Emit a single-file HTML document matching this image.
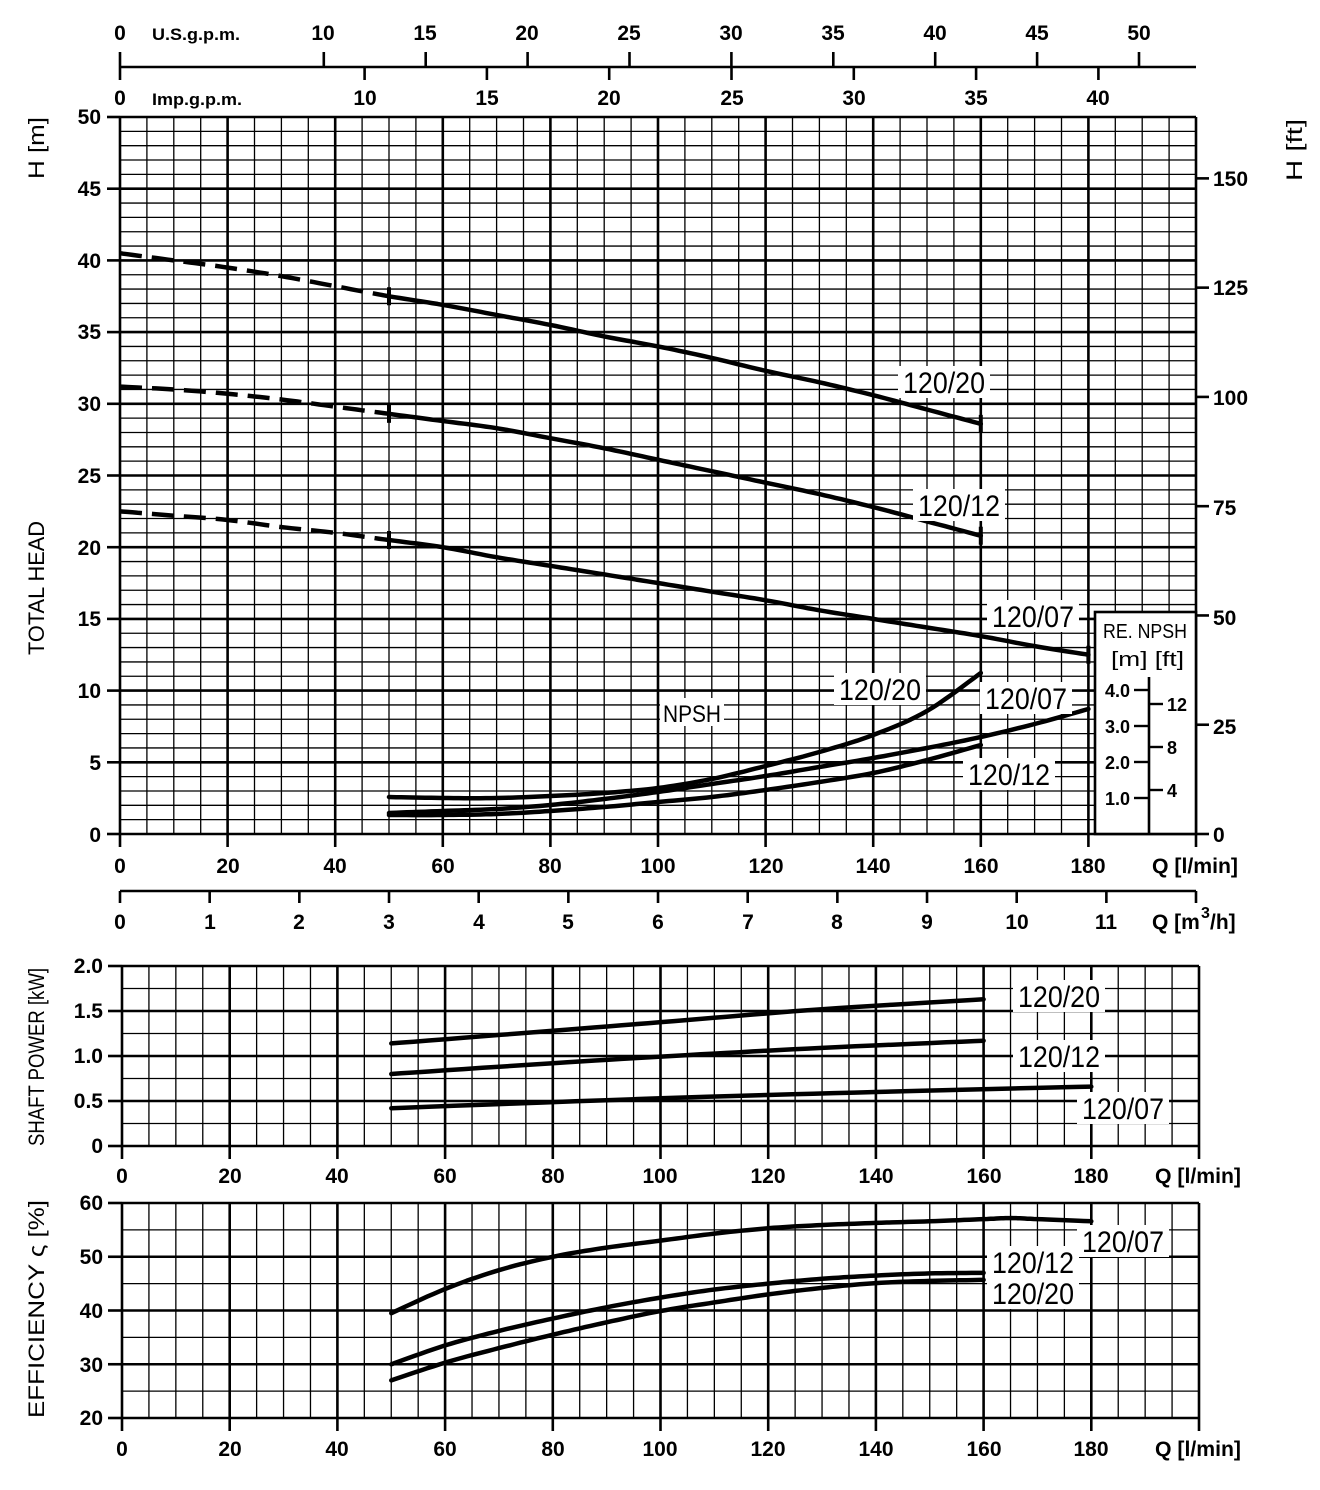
<!DOCTYPE html>
<html><head><meta charset="utf-8"><style>
html,body{margin:0;padding:0;background:#fff;}
svg{display:block;}
text{font-family:"Liberation Sans",sans-serif;fill:#000;}
.t{font-size:21px;font-weight:bold;}
.tr{font-size:21px;font-weight:bold;text-anchor:end;}
.tm{font-size:21px;font-weight:bold;text-anchor:middle;}
.lb{font-size:30px;}
.ax{font-size:22px;}
</style></head><body>
<svg id="s" width="1320" height="1490" viewBox="0 0 1320 1490" xmlns="http://www.w3.org/2000/svg">
<g id="grid"></g>
<g id="curves"></g>
<g id="labels">
<text class="tm" x="120" y="40">0</text>
<text class="t" x="152" y="40" style="font-size:17px" textLength="88" lengthAdjust="spacingAndGlyphs">U.S.g.p.m.</text>
<text class="tm" x="323" y="40">10</text>
<text class="tm" x="425" y="40">15</text>
<text class="tm" x="527" y="40">20</text>
<text class="tm" x="629" y="40">25</text>
<text class="tm" x="731" y="40">30</text>
<text class="tm" x="833" y="40">35</text>
<text class="tm" x="935" y="40">40</text>
<text class="tm" x="1037" y="40">45</text>
<text class="tm" x="1139" y="40">50</text>
<text class="tm" x="120" y="105">0</text>
<text class="t" x="152" y="105" style="font-size:17px" textLength="90" lengthAdjust="spacingAndGlyphs">Imp.g.p.m.</text>
<text class="tm" x="365" y="105">10</text>
<text class="tm" x="487" y="105">15</text>
<text class="tm" x="609" y="105">20</text>
<text class="tm" x="732" y="105">25</text>
<text class="tm" x="854" y="105">30</text>
<text class="tm" x="976" y="105">35</text>
<text class="tm" x="1098" y="105">40</text>
<text class="tr" x="101" y="124">50</text>
<text class="tr" x="101" y="196">45</text>
<text class="tr" x="101" y="268">40</text>
<text class="tr" x="101" y="339">35</text>
<text class="tr" x="101" y="411">30</text>
<text class="tr" x="101" y="483">25</text>
<text class="tr" x="101" y="555">20</text>
<text class="tr" x="101" y="626">15</text>
<text class="tr" x="101" y="698">10</text>
<text class="tr" x="101" y="770">5</text>
<text class="tr" x="101" y="842">0</text>
<text class="t" x="1213" y="186">150</text>
<text class="t" x="1213" y="295">125</text>
<text class="t" x="1213" y="405">100</text>
<text class="t" x="1213" y="515">75</text>
<text class="t" x="1213" y="625">50</text>
<text class="t" x="1213" y="734">25</text>
<text class="t" x="1213" y="842">0</text>
<text class="tm" x="120" y="873">0</text>
<text class="tm" x="228" y="873">20</text>
<text class="tm" x="335" y="873">40</text>
<text class="tm" x="443" y="873">60</text>
<text class="tm" x="550" y="873">80</text>
<text class="tm" x="658" y="873">100</text>
<text class="tm" x="766" y="873">120</text>
<text class="tm" x="873" y="873">140</text>
<text class="tm" x="981" y="873">160</text>
<text class="tm" x="1088" y="873">180</text>
<text class="t" x="1152" y="873" textLength="86" lengthAdjust="spacingAndGlyphs">Q [l/min]</text>
<text class="tm" x="120" y="929">0</text>
<text class="tm" x="210" y="929">1</text>
<text class="tm" x="299" y="929">2</text>
<text class="tm" x="389" y="929">3</text>
<text class="tm" x="479" y="929">4</text>
<text class="tm" x="568" y="929">5</text>
<text class="tm" x="658" y="929">6</text>
<text class="tm" x="748" y="929">7</text>
<text class="tm" x="837" y="929">8</text>
<text class="tm" x="927" y="929">9</text>
<text class="tm" x="1017" y="929">10</text>
<text class="tm" x="1106" y="929">11</text>
<text class="t" x="1152" y="929">Q [m</text>
<text class="t" x="1201" y="918" style="font-size:16px">3</text>
<text class="t" x="1210" y="929">/h]</text>
<text class="ax" transform="translate(44,148) rotate(-90)" text-anchor="middle" textLength="62" lengthAdjust="spacingAndGlyphs">H [m]</text>
<text class="ax" transform="translate(44,588) rotate(-90)" text-anchor="middle" textLength="134" lengthAdjust="spacingAndGlyphs">TOTAL HEAD</text>
<text class="ax" transform="translate(1302,150) rotate(-90)" text-anchor="middle" textLength="62" lengthAdjust="spacingAndGlyphs">H [ft]</text>
<text class="ax" transform="translate(44,1057) rotate(-90)" text-anchor="middle" textLength="178" lengthAdjust="spacingAndGlyphs">SHAFT POWER  [kW]</text>
<text class="ax" transform="translate(44,1309) rotate(-90)" text-anchor="middle" textLength="218" lengthAdjust="spacingAndGlyphs">EFFICIENCY   ς  [%]</text>
<text class="tr" x="103" y="973">2.0</text>
<text class="tr" x="103" y="1018">1.5</text>
<text class="tr" x="103" y="1063">1.0</text>
<text class="tr" x="103" y="1108">0.5</text>
<text class="tr" x="103" y="1153">0</text>
<text class="tm" x="122" y="1183">0</text>
<text class="tm" x="230" y="1183">20</text>
<text class="tm" x="337" y="1183">40</text>
<text class="tm" x="445" y="1183">60</text>
<text class="tm" x="553" y="1183">80</text>
<text class="tm" x="660" y="1183">100</text>
<text class="tm" x="768" y="1183">120</text>
<text class="tm" x="876" y="1183">140</text>
<text class="tm" x="984" y="1183">160</text>
<text class="tm" x="1091" y="1183">180</text>
<text class="t" x="1155" y="1183" textLength="86" lengthAdjust="spacingAndGlyphs">Q [l/min]</text>
<text class="tr" x="103" y="1210">60</text>
<text class="tr" x="103" y="1264">50</text>
<text class="tr" x="103" y="1318">40</text>
<text class="tr" x="103" y="1372">30</text>
<text class="tr" x="103" y="1425">20</text>
<text class="tm" x="122" y="1456">0</text>
<text class="tm" x="230" y="1456">20</text>
<text class="tm" x="337" y="1456">40</text>
<text class="tm" x="445" y="1456">60</text>
<text class="tm" x="553" y="1456">80</text>
<text class="tm" x="660" y="1456">100</text>
<text class="tm" x="768" y="1456">120</text>
<text class="tm" x="876" y="1456">140</text>
<text class="tm" x="984" y="1456">160</text>
<text class="tm" x="1091" y="1456">180</text>
<text class="t" x="1155" y="1456" textLength="86" lengthAdjust="spacingAndGlyphs">Q [l/min]</text>
<text x="1103" y="638" style="font-size:20px" textLength="84" lengthAdjust="spacingAndGlyphs">RE. NPSH</text>
<text x="1111" y="666" style="font-size:20px" textLength="73" lengthAdjust="spacingAndGlyphs">[m] [ft]</text>
<text class="tr" x="1130" y="697" style="font-size:18px">4.0</text>
<text class="tr" x="1130" y="733" style="font-size:18px">3.0</text>
<text class="tr" x="1130" y="769" style="font-size:18px">2.0</text>
<text class="tr" x="1130" y="805" style="font-size:18px">1.0</text>
<text class="t" x="1167" y="711" style="font-size:18px">12</text>
<text class="t" x="1167" y="754" style="font-size:18px">8</text>
<text class="t" x="1167" y="797" style="font-size:18px">4</text>
</g>
<g id="curvelabels">
<rect x="898" y="366" width="92" height="32" fill="#fff"/><text class="lb" x="903" y="393" textLength="82" lengthAdjust="spacingAndGlyphs">120/20</text>
<rect x="913" y="489" width="92" height="32" fill="#fff"/><text class="lb" x="918" y="516" textLength="82" lengthAdjust="spacingAndGlyphs">120/12</text>
<rect x="987" y="600" width="92" height="32" fill="#fff"/><text class="lb" x="992" y="627" textLength="82" lengthAdjust="spacingAndGlyphs">120/07</text>
<rect x="834" y="673" width="92" height="32" fill="#fff"/><text class="lb" x="839" y="700" textLength="82" lengthAdjust="spacingAndGlyphs">120/20</text>
<rect x="980" y="682" width="92" height="32" fill="#fff"/><text class="lb" x="985" y="709" textLength="82" lengthAdjust="spacingAndGlyphs">120/07</text>
<rect x="963" y="758" width="92" height="32" fill="#fff"/><text class="lb" x="968" y="785" textLength="82" lengthAdjust="spacingAndGlyphs">120/12</text>
<rect x="660" y="698" width="64" height="28" fill="#fff"/><text class="lb" x="663" y="722" style="font-size:24px" textLength="58" lengthAdjust="spacingAndGlyphs">NPSH</text>
<rect x="1013" y="980" width="92" height="32" fill="#fff"/><text class="lb" x="1018" y="1007" textLength="82" lengthAdjust="spacingAndGlyphs">120/20</text>
<rect x="1013" y="1040" width="92" height="32" fill="#fff"/><text class="lb" x="1018" y="1067" textLength="82" lengthAdjust="spacingAndGlyphs">120/12</text>
<rect x="1077" y="1092" width="92" height="32" fill="#fff"/><text class="lb" x="1082" y="1119" textLength="82" lengthAdjust="spacingAndGlyphs">120/07</text>
<rect x="987" y="1246" width="92" height="32" fill="#fff"/><text class="lb" x="992" y="1273" textLength="82" lengthAdjust="spacingAndGlyphs">120/12</text>
<rect x="987" y="1277" width="92" height="32" fill="#fff"/><text class="lb" x="992" y="1304" textLength="82" lengthAdjust="spacingAndGlyphs">120/20</text>
<rect x="1077" y="1225" width="92" height="32" fill="#fff"/><text class="lb" x="1082" y="1252" textLength="82" lengthAdjust="spacingAndGlyphs">120/07</text>
</g>
</svg>
<script>
(function(){
var NS="http://www.w3.org/2000/svg";
var G=document.getElementById('grid'),C=document.getElementById('curves');
function L(p,x1,y1,x2,y2,w){var e=document.createElementNS(NS,'line');e.setAttribute('x1',x1);e.setAttribute('y1',y1);e.setAttribute('x2',x2);e.setAttribute('y2',y2);e.setAttribute('stroke','#000');e.setAttribute('stroke-width',w);p.appendChild(e);return e;}
function P(p,pts,w,dash){var e=document.createElementNS(NS,'polyline');e.setAttribute('points',pts.map(function(a){return a[0].toFixed(1)+','+a[1].toFixed(1)}).join(' '));e.setAttribute('fill','none');e.setAttribute('stroke','#000');e.setAttribute('stroke-width',w);e.setAttribute('stroke-linejoin','round');e.setAttribute('stroke-linecap','round');if(dash){e.setAttribute('stroke-dasharray',dash);e.setAttribute('stroke-linecap','butt');}p.appendChild(e);}
function smooth(pts){var out=[];for(var i=0;i<pts.length-1;i++){var p0=pts[Math.max(0,i-1)],p1=pts[i],p2=pts[i+1],p3=pts[Math.min(pts.length-1,i+2)];for(var t=0;t<1;t+=0.1){var t2=t*t,t3=t2*t;out.push([0.5*((2*p1[0])+(-p0[0]+p2[0])*t+(2*p0[0]-5*p1[0]+4*p2[0]-p3[0])*t2+(-p0[0]+3*p1[0]-3*p2[0]+p3[0])*t3),0.5*((2*p1[1])+(-p0[1]+p2[1])*t+(2*p0[1]-5*p1[1]+4*p2[1]-p3[1])*t2+(-p0[1]+3*p1[1]-3*p2[1]+p3[1])*t3)]);}}out.push(pts[pts.length-1]);return out;}
var X=function(q){return 120+q*5.38},Y=function(h){return 834-h*14.34};
for(var q=0;q<=200;q+=5){var mj=q%20==0;L(G,X(q),117,X(q),834,mj?2.6:1.3);}
for(var h=0;h<=50;h++){var mj=h%5==0;L(G,120,Y(h),1196,Y(h),mj?2.6:1.3);}
L(G,1196,117,1196,834,2);
for(var h=0;h<=50;h+=5)L(G,107,Y(h),120,Y(h),2.6);
for(var q=0;q<=180;q+=20)L(G,X(q),834,X(q),847,2.6);
L(G,1196,834,1196,847,2.6);
for(var f=0;f<=150;f+=25){var y=834-f*0.3048*14.34;L(G,1196,y,1209,y,2.6);}
var r=document.createElementNS(NS,'rect');r.setAttribute('x',1095);r.setAttribute('y',612);r.setAttribute('width',101);r.setAttribute('height',222);r.setAttribute('fill','#fff');r.setAttribute('stroke','#000');r.setAttribute('stroke-width',2.6);G.appendChild(r);
L(G,1149,677,1149,834,2.6);
[690,726,762,798].forEach(function(y){L(G,1134,y,1149,y,2.4)});
[704,747,790].forEach(function(y){L(G,1149,y,1163,y,2.4)});
L(G,120,67,1196,67,2.6);
L(G,120,52,120,80,2.6);
for(var g=10;g<=50;g+=5){var x=120+g*20.38;L(G,x,52,x,67,2.6);}
for(var g=10;g<=40;g+=5){var x=120+g*24.46;L(G,x,67,x,80,2.6);}
L(G,120,891,1196,891,2.6);
for(var m=0;m<=11;m++){var x=120+m*89.67;L(G,x,891,x,903,2.6);}
L(G,1196,891,1196,903,2.6);
function head(arr){var pts=arr.map(function(a){return [X(a[0]),Y(a[1])]});var sp=smooth(pts);var d=[],s=[];sp.forEach(function(p){if(p[0]<=X(50)+0.5)d.push(p);if(p[0]>=X(50)-0.5)s.push(p);});P(C,d,4.5,'22,10');P(C,s,4.5);}
head([[0,40.5],[10,40],[20,39.5],[30,38.9],[40,38.2],[50,37.5],[60,36.9],[70,36.2],[80,35.5],[90,34.7],[100,34.0],[110,33.2],[120,32.3],[130,31.5],[140,30.6],[150,29.6],[160,28.6]]);
head([[0,31.2],[10,31.0],[20,30.7],[30,30.3],[40,29.8],[50,29.3],[60,28.8],[70,28.3],[80,27.6],[90,26.9],[100,26.1],[110,25.3],[120,24.5],[130,23.7],[140,22.8],[150,21.8],[160,20.8]]);
head([[0,22.5],[10,22.2],[20,21.9],[30,21.4],[40,21.0],[50,20.5],[60,20.0],[70,19.3],[80,18.7],[90,18.1],[100,17.5],[110,16.9],[120,16.3],[130,15.6],[140,15.0],[150,14.4],[160,13.8],[170,13.1],[180,12.5]]);
[[50,37.5],[50,29.3],[50,20.5],[160,28.6],[160,20.8],[180,12.5]].forEach(function(a){var x=X(a[0]),y=Y(a[1]);L(C,x,y-9,x,y+9,4);});
function npsh(arr){P(C,smooth(arr.map(function(a){return [X(a[0]),a[1]]})),4.5);}
npsh([[50,797],[60,798],[70,798],[80,796],[90,793],[100,788],[110,779],[120,766],[130,752],[140,735],[150,711],[160,673]]);
npsh([[50,813],[60,811],[70,809],[80,805],[90,799],[100,792],[110,784],[120,776],[130,767],[140,758],[150,748],[160,737],[170,724],[180,709]]);
npsh([[50,815],[60,815],[70,814],[80,811],[90,807],[100,802],[110,797],[120,790],[130,782],[140,773],[150,760],[160,745]]);
var XP=function(q){return 122+q*5.385},YP=function(p){return 1146-p*90};
for(var q=0;q<=200;q+=5){var mj=q%20==0;L(G,XP(q),966,XP(q),1146,mj?2.6:1.3);}
for(var i=0;i<=8;i++){var p=i*0.25,mj=i%2==0;L(G,122,YP(p),1199,YP(p),mj?2.6:1.3);}
L(G,1199,966,1199,1146,2);
for(var i=0;i<=4;i++)L(G,108,YP(i*0.5),122,YP(i*0.5),2.6);
for(var q=0;q<=180;q+=20)L(G,XP(q),1146,XP(q),1159,2.6);
L(G,1199,1146,1199,1159,2.6);
function pw(arr){P(C,smooth(arr.map(function(a){return [XP(a[0]),YP(a[1])]})),4.5);}
pw([[50,1.14],[80,1.28],[105,1.40],[130,1.52],[160,1.63]]);
pw([[50,0.80],[80,0.92],[105,1.01],[130,1.09],[160,1.17]]);
pw([[50,0.42],[100,0.53],[140,0.60],[180,0.66]]);
var YE=function(e){return 1418-(e-20)*5.375};
for(var q=0;q<=200;q+=5){var mj=q%20==0;L(G,XP(q),1203,XP(q),1418,mj?2.6:1.3);}
for(var e=20;e<=60;e+=5){var mj=e%10==0;L(G,122,YE(e),1199,YE(e),mj?2.6:1.3);}
L(G,1199,1203,1199,1418,2);
for(var e=20;e<=60;e+=10)L(G,108,YE(e),122,YE(e),2.6);
for(var q=0;q<=180;q+=20)L(G,XP(q),1418,XP(q),1431,2.6);
L(G,1199,1418,1199,1431,2.6);
function ef(arr){P(C,smooth(arr.map(function(a){return [XP(a[0]),YE(a[1])]})),4.5);}
ef([[50,39.5],[60,44],[70,47.5],[80,50],[90,51.7],[100,53],[110,54.3],[120,55.3],[130,55.9],[140,56.3],[150,56.6],[160,57],[165,57.2],[170,57],[180,56.6]]);
ef([[50,30],[60,33.5],[70,36.2],[80,38.5],[90,40.6],[100,42.4],[110,43.9],[120,45],[130,45.9],[140,46.5],[150,46.9],[160,47]]);
ef([[50,27],[60,30.3],[70,33],[80,35.5],[90,37.8],[100,39.9],[110,41.5],[120,43],[130,44.2],[140,45.1],[150,45.5],[160,45.7]]);
})();
</script>
</body></html>
